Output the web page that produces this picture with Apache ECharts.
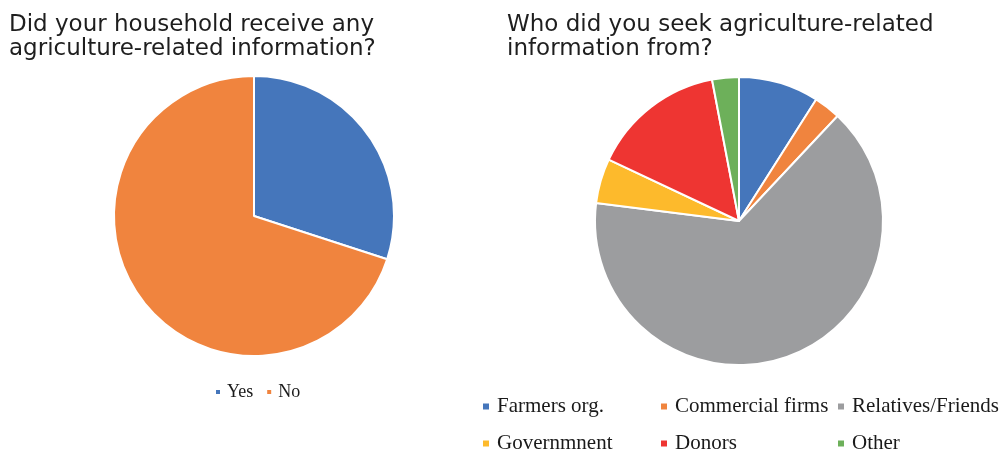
<!DOCTYPE html>
<html>
<head>
<meta charset="utf-8">
<script src="https://cdn.jsdelivr.net/npm/echarts@6/dist/echarts.min.js"></script>
<style>
  html, body { margin: 0; padding: 0; background: #fff; }
  #chart { width: 1003px; height: 449px; }
</style>
</head>
<body>
<div id="chart"></div>
<script>
// Household survey: access to agriculture-related information (percent)
const receivedLabels = ['Yes', 'No'];
const receivedValues = [30, 70];
const receivedColors = ['#4576BB', '#F0843E'];

const sourceLabels = ['Farmers org.', 'Commercial firms', 'Relatives/Friends', 'Governmnent', 'Donors', 'Other'];
const sourceValues = [9, 3, 65, 5, 15, 3];
const sourceColors = ['#4576BB', '#F0843E', '#9C9D9F', '#FDBA2C', '#EE3532', '#6DB05A'];

const titleLeft = 'Did your household receive any\nagriculture-related information?';
const titleRight = 'Who did you seek agriculture-related\ninformation from?';

const chart = echarts.init(document.getElementById('chart'), null, { renderer: 'canvas' });

const titleStyle = {
  fontFamily: 'DejaVu Sans',
  fontSize: 23,
  fontWeight: 'normal',
  color: '#1e1e1e',
  lineHeight: 24
};

// one legend entry per grid cell so the source legend lines up in columns
const colLeft = [481, 659, 836];
const rowTop = [396, 433];

function cellLegend(name, i) {
  return {
    data: [name],
    left: colLeft[i % 3],
    top: rowTop[Math.floor(i / 3)],
    padding: 0,
    icon: 'rect',
    itemWidth: 8,
    itemHeight: 8,
    textStyle: {
      fontFamily: 'Liberation Serif',
      fontSize: 21,
      color: '#1a1a1a',
      padding: [0, 0, 0, 2]
    },
    selectedMode: false
  };
}

function toData(labels, values, colors) {
  return labels.map((name, i) => ({ name, value: values[i], itemStyle: { color: colors[i] } }));
}

chart.setOption({
  animation: false,
  backgroundColor: '#ffffff',
  title: [
    { text: titleLeft, left: 9, top: 13, padding: 0, textStyle: titleStyle },
    { text: titleRight, left: 507, top: 13, padding: 0, textStyle: titleStyle }
  ],
  legend: [
    {
      data: receivedLabels,
      orient: 'horizontal',
      left: 214,
      top: 383,
      padding: 0,
      itemGap: 12,
      icon: 'rect',
      itemWidth: 6,
      itemHeight: 6,
      textStyle: {
        fontFamily: 'Liberation Serif',
        fontSize: 18,
        color: '#1a1a1a',
        padding: [0, 0, 0, 1]
      },
      selectedMode: false
    }
  ].concat(sourceLabels.map(cellLegend)),
  series: [
    {
      type: 'pie',
      center: [254, 216],
      radius: 140,
      startAngle: 90,
      clockwise: true,
      label: { show: false },
      labelLine: { show: false },
      emphasis: { disabled: true },
      itemStyle: { borderColor: '#ffffff', borderWidth: 2 },
      data: toData(receivedLabels, receivedValues, receivedColors)
    },
    {
      type: 'pie',
      center: [739, 221],
      radius: 144,
      startAngle: 90,
      clockwise: true,
      label: { show: false },
      labelLine: { show: false },
      emphasis: { disabled: true },
      itemStyle: { borderColor: '#ffffff', borderWidth: 2 },
      data: toData(sourceLabels, sourceValues, sourceColors)
    }
  ]
});
</script>
</body>
</html>
